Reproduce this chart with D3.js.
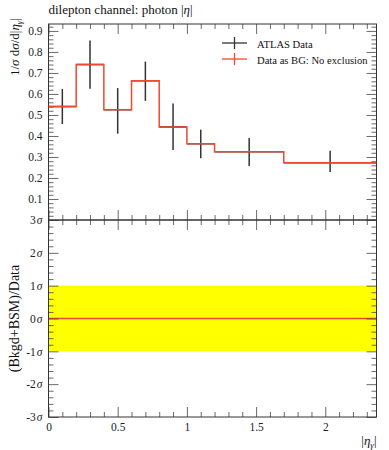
<!DOCTYPE html>
<html lang="en">
<head>
  <meta charset="UTF-8">
  <title>dilepton channel: photon |eta|</title>
  <script src="https://d3js.org/d3.v7.min.js"></script>
  <style>
    body { margin: 0; background: #fff; }
    svg, svg text { font-family: "Liberation Serif", "DejaVu Serif", serif; }
    .domain { display: none; }
    .tick line { stroke: #444; stroke-width: 0.8px; }
  </style>
</head>
<body>
  <svg width="389" height="450"></svg>
  <script>
    const svg = d3.select("svg");

    // bin edges of |eta_gamma|
    const binLo = [0, 0.2, 0.4, 0.6, 0.8, 1.0, 1.2, 1.7];
    const binHi = [0.2, 0.4, 0.6, 0.8, 1.0, 1.2, 1.7, 2.37];
    const binCentre = [0.1, 0.3, 0.5, 0.7, 0.9, 1.1, 1.45, 2.035];
    // ATLAS data, normalised
    const dataVal = [0.54, 0.74, 0.525, 0.663, 0.443, 0.363, 0.325, 0.273];
    const errUp = [0.084, 0.115, 0.103, 0.091, 0.111, 0.067, 0.065, 0.057];
    const errDn = [0.083, 0.115, 0.114, 0.096, 0.11, 0.069, 0.068, 0.044];
    // "Data as BG" histogram = same values
    const bgVal = [0.54, 0.74, 0.525, 0.663, 0.443, 0.363, 0.325, 0.273];
    const xTicks = [0, 0.5, 1, 1.5, 2];
    const yTopTicks = [0.1, 0.2, 0.3, 0.4, 0.5, 0.6, 0.7, 0.8, 0.9];
    const sigmaTicks = [-3, -2, -1, 0, 1, 2, 3];

    const L = 48.5, R = 376.5, T = 24, MID = 220, B = 417;
    const red = "#ee4a30";
    const FONT = "'Liberation Serif', serif";

    const x = d3.scaleLinear().domain([0, 2.37]).range([L, R]);
    const yTop = d3.scaleLinear().domain([0, 0.933]).range([MID, T]);
    const yBot = d3.scaleLinear().domain([-3, 3]).range([B, MID]);

    const xMinor = d3.range(0, 2.37, 0.1).filter(v => Math.abs(v * 2 - Math.round(v * 2)) > 1e-6);
    const yTopMinor = d3.range(0.02, 0.933, 0.02).filter(v => Math.abs(v * 10 - Math.round(v * 10)) > 1e-6);
    const sigMinor = d3.range(-3, 3.001, 0.2).filter(v => Math.abs(v - Math.round(v)) > 1e-6);

    // yellow 1 sigma band
    svg.append("rect")
      .attr("x", x(0)).attr("y", yBot(1))
      .attr("width", x(2.37) - x(0)).attr("height", yBot(-1) - yBot(1))
      .attr("fill", "#ffff00");
    svg.append("line")
      .attr("x1", x(0)).attr("x2", x(2.37))
      .attr("y1", yBot(0)).attr("y2", yBot(0))
      .attr("stroke", red).attr("stroke-width", 1.3);

    // axes helper: ticks pointing inward
    function addAxis(g, axisFn, scale, vals, size, labels) {
      const ax = axisFn(scale).tickValues(vals).tickSize(size).tickPadding(6);
      if (!labels) ax.tickFormat("");
      else ax.tickFormat(labels);
      g.call(ax);
      g.attr("font-family", FONT).attr("font-size", 11.5);
      g.selectAll(".tick text").attr("fill", "#222");
      return g;
    }

    // top panel
    addAxis(svg.append("g").attr("transform", `translate(0,${MID})`), d3.axisBottom, x, xTicks, -10);
    addAxis(svg.append("g").attr("transform", `translate(0,${MID})`), d3.axisBottom, x, xMinor, -5);
    addAxis(svg.append("g").attr("transform", `translate(0,${T})`), d3.axisTop, x, xTicks, -10);
    addAxis(svg.append("g").attr("transform", `translate(0,${T})`), d3.axisTop, x, xMinor, -5);
    addAxis(svg.append("g").attr("transform", `translate(${L},0)`), d3.axisLeft, yTop, yTopTicks, -10, d3.format(".1f"));
    addAxis(svg.append("g").attr("transform", `translate(${L},0)`), d3.axisLeft, yTop, yTopMinor, -5);
    addAxis(svg.append("g").attr("transform", `translate(${R},0)`), d3.axisRight, yTop, yTopTicks, -10);
    addAxis(svg.append("g").attr("transform", `translate(${R},0)`), d3.axisRight, yTop, yTopMinor, -5);

    // bottom panel
    addAxis(svg.append("g").attr("transform", `translate(0,${B})`), d3.axisBottom, x, xTicks, -10, d => d3.format("")(d));
    addAxis(svg.append("g").attr("transform", `translate(0,${B})`), d3.axisBottom, x, xMinor, -5);
    addAxis(svg.append("g").attr("transform", `translate(0,${MID})`), d3.axisTop, x, xTicks, -10);
    addAxis(svg.append("g").attr("transform", `translate(0,${MID})`), d3.axisTop, x, xMinor, -5);
    const sg = addAxis(svg.append("g").attr("transform", `translate(${L},0)`), d3.axisLeft, yBot, sigmaTicks, -10, d => d);
    sg.selectAll(".tick text").text(null).each(function(d) {
      const t = d3.select(this);
      t.append("tspan").text(d < 0 ? "-" + Math.abs(d) : d);
      t.append("tspan").attr("font-style", "italic").attr("dx", 1).text("σ");
    });
    addAxis(svg.append("g").attr("transform", `translate(${L},0)`), d3.axisLeft, yBot, sigMinor, -5);
    addAxis(svg.append("g").attr("transform", `translate(${R},0)`), d3.axisRight, yBot, sigmaTicks, -10);
    addAxis(svg.append("g").attr("transform", `translate(${R},0)`), d3.axisRight, yBot, sigMinor, -5);

    // frames
    [[T, MID], [MID, B]].forEach(([a, b]) => {
      svg.append("rect").attr("x", L).attr("y", a).attr("width", R - L).attr("height", b - a)
        .attr("fill", "none").attr("stroke", "#333").attr("stroke-width", 1);
    });

    // data: black bars
    const dataG = svg.append("g").attr("stroke", "#333").attr("stroke-width", 1.5);
    binCentre.forEach((c, i) => {
      dataG.append("line")
        .attr("x1", x(c)).attr("x2", x(c))
        .attr("y1", yTop(dataVal[i] + errUp[i])).attr("y2", yTop(dataVal[i] - errDn[i]));
      dataG.append("line")
        .attr("x1", x(binLo[i])).attr("x2", x(binHi[i]))
        .attr("y1", yTop(dataVal[i])).attr("y2", yTop(dataVal[i]));
    });

    // red step histogram
    const pts = [];
    bgVal.forEach((v, i) => { pts.push([binLo[i], v]); pts.push([binHi[i], v]); });
    svg.append("path")
      .attr("d", d3.line().x(d => x(d[0])).y(d => yTop(d[1]))(pts))
      .attr("fill", "none").attr("stroke", red).attr("stroke-width", 1.5);

    // legend
    const leg = [["ATLAS Data", "#333"], ["Data as BG: No exclusion", red]];
    leg.forEach(([label, col], i) => {
      const ly = 43 + i * 16;
      svg.append("line").attr("x1", 222).attr("x2", 247).attr("y1", ly).attr("y2", ly)
        .attr("stroke", col).attr("stroke-width", 1.3);
      svg.append("line").attr("x1", 234.5).attr("x2", 234.5).attr("y1", ly - 6).attr("y2", ly + 6)
        .attr("stroke", col).attr("stroke-width", 1.3);
      svg.append("text").attr("x", 257).attr("y", ly + 4.5).attr("font-size", 10.6).attr("fill", "#111")
        .text(label);
    });

    // title
    const title = svg.append("text").attr("x", L).attr("y", 14).attr("font-size", 13).attr("fill", "#111");
    title.append("tspan").text("dilepton channel: photon |");
    title.append("tspan").attr("font-style", "italic").text("η");
    title.append("tspan").text("|");

    // y labels
    const yl = svg.append("text").attr("transform", `translate(19,18) rotate(-90)`)
      .attr("text-anchor", "end").attr("font-size", 13).attr("fill", "#111");
    yl.append("tspan").text("1/");
    yl.append("tspan").attr("font-style", "italic").text("σ");
    yl.append("tspan").text(" d");
    yl.append("tspan").attr("font-style", "italic").text("σ");
    yl.append("tspan").text("/d|");
    yl.append("tspan").attr("font-style", "italic").text("η");
    yl.append("tspan").attr("font-style", "italic").attr("font-size", 9).attr("dy", 3).text("γ");
    yl.append("tspan").attr("dy", -3).text("|");

    svg.append("text").attr("transform", `translate(19,${(MID + B) / 2}) rotate(-90)`)
      .attr("text-anchor", "middle").attr("font-size", 14).attr("fill", "#111")
      .text("(Bkgd+BSM)/Data");

    // x label
    const xl = svg.append("text").attr("x", R).attr("y", 445).attr("text-anchor", "end")
      .attr("font-size", 13).attr("fill", "#111");
    xl.append("tspan").text("|");
    xl.append("tspan").attr("font-style", "italic").text("η");
    xl.append("tspan").attr("font-style", "italic").attr("font-size", 9).attr("dy", 3).text("γ");
    xl.append("tspan").attr("dy", -3).text("|");
  </script>
</body>
</html>
